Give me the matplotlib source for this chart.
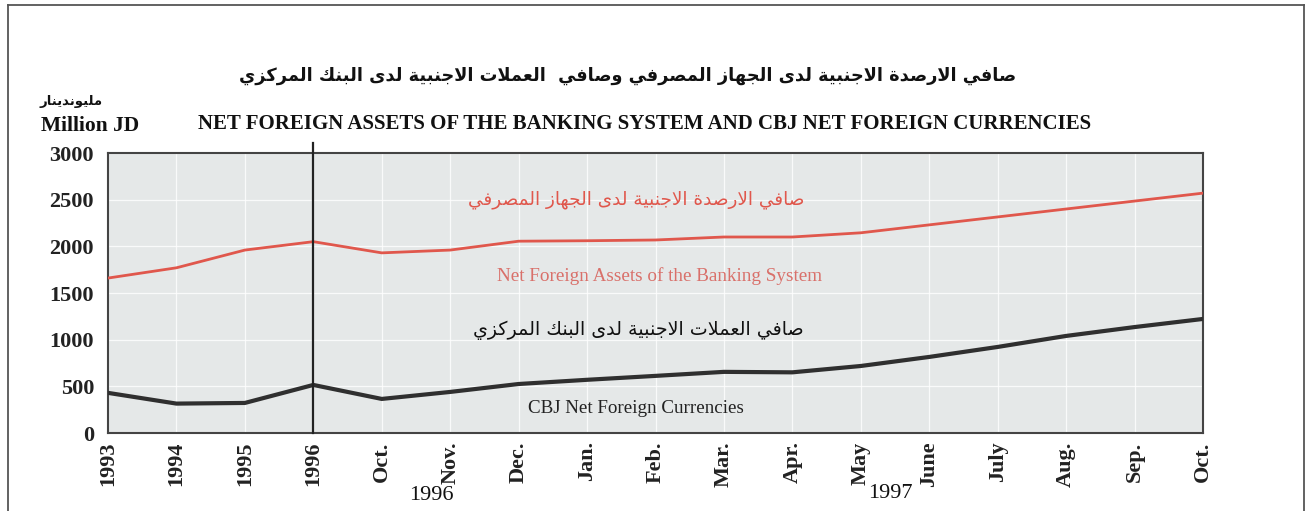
import matplotlib
matplotlib.use("Agg")
import matplotlib.pyplot as plt
from matplotlib.lines import Line2D

# ---------------- data ----------------
categories = ["1993", "1994", "1995", "1996", "Oct.", "Nov.", "Dec.", "Jan.", "Feb.",
              "Mar.", "Apr.", "May", "June", "July", "Aug.", "Sep.", "Oct."]
banking_nfa = [1660, 1770, 1960, 2050, 1930, 1960, 2055, 2060, 2068,
               2100, 2100, 2145, 2230, 2315, 2400, 2485, 2570]
cbj_nfc = [430, 315, 322, 515, 365, 440, 525, 570, 612,
           655, 650, 718, 815, 922, 1040, 1135, 1222]
yticks = [0, 500, 1000, 1500, 2000, 2500, 3000]

title_ar = "صافي الارصدة الاجنبية لدى الجهاز المصرفي وصافي  العملات الاجنبية لدى البنك المركزي"
title_en = "NET FOREIGN ASSETS OF THE BANKING SYSTEM AND CBJ NET FOREIGN CURRENCIES"
unit_ar = "مليوندينار"
unit_en = "Million JD"
red_ar = "صافي الارصدة الاجنبية لدى الجهاز المصرفي"
red_en = "Net Foreign Assets of the Banking System"
blk_ar = "صافي العملات الاجنبية لدى البنك المركزي"
blk_en = "CBJ Net Foreign Currencies"
year_labels = ["1996", "1997"]

# ------------- simple Arabic shaping (presentation forms + RTL) -------------
FORMS = {
    '\u0627': ('\uFE8D', '\uFE8E', None, None),
    '\u0628': ('\uFE8F', '\uFE90', '\uFE91', '\uFE92'),
    '\u0629': ('\uFE93', '\uFE94', None, None),
    '\u062A': ('\uFE95', '\uFE96', '\uFE97', '\uFE98'),
    '\u062C': ('\uFE9D', '\uFE9E', '\uFE9F', '\uFEA0'),
    '\u062F': ('\uFEA9', '\uFEAA', None, None),
    '\u0631': ('\uFEAD', '\uFEAE', None, None),
    '\u0632': ('\uFEAF', '\uFEB0', None, None),
    '\u0635': ('\uFEB9', '\uFEBA', '\uFEBB', '\uFEBC'),
    '\u0639': ('\uFEC9', '\uFECA', '\uFECB', '\uFECC'),
    '\u0641': ('\uFED1', '\uFED2', '\uFED3', '\uFED4'),
    '\u0643': ('\uFED9', '\uFEDA', '\uFEDB', '\uFEDC'),
    '\u0644': ('\uFEDD', '\uFEDE', '\uFEDF', '\uFEE0'),
    '\u0645': ('\uFEE1', '\uFEE2', '\uFEE3', '\uFEE4'),
    '\u0646': ('\uFEE5', '\uFEE6', '\uFEE7', '\uFEE8'),
    '\u0647': ('\uFEE9', '\uFEEA', '\uFEEB', '\uFEEC'),
    '\u0648': ('\uFEED', '\uFEEE', None, None),
    '\u0649': ('\uFEEF', '\uFEF0', None, None),
    '\u064A': ('\uFEF1', '\uFEF2', '\uFEF3', '\uFEF4'),
}


def shape(s):
    ch = list(s)
    n = len(ch)
    out = []
    i = 0
    while i < n:
        c = ch[i]
        if c not in FORMS:
            out.append(c)
            i += 1
            continue
        prev = ch[i - 1] if i > 0 else None
        jp = prev in FORMS and FORMS[prev][2] is not None
        if c == '\u0644' and i + 1 < n and ch[i + 1] == '\u0627':
            out.append('\uFEFC' if jp else '\uFEFB')
            i += 2
            continue
        nxt = ch[i + 1] if i + 1 < n else None
        f = FORMS[c]
        jn = f[2] is not None and nxt in FORMS
        if jp and jn:
            g = f[3]
        elif jp:
            g = f[1]
        elif jn:
            g = f[2]
        else:
            g = f[0]
        out.append(g)
        i += 1
    return ''.join(reversed(out))


SERIF = ["Liberation Serif", "DejaVu Serif"]
ARAB = ["DejaVu Sans"]
RED = "#e0574c"
DARK = "#2f2f2f"

W, H = 1312, 511
fig = plt.figure(figsize=(W / 100, H / 100), dpi=100)
fig.patch.set_facecolor("white")

# outer frame
fig.add_artist(Line2D([8 / W, 8 / W], [0, 1 - 5 / H], transform=fig.transFigure, color="#555555", lw=1.3))
fig.add_artist(Line2D([1304 / W, 1304 / W], [0, 1 - 5 / H], transform=fig.transFigure, color="#555555", lw=1.3))
fig.add_artist(Line2D([8 / W, 1304 / W], [1 - 5 / H, 1 - 5 / H], transform=fig.transFigure, color="#555555", lw=1.3))

ax = fig.add_axes([108 / W, 1 - 433 / H, (1203 - 108) / W, (433 - 153) / H])
ax.set_facecolor("#e5e8e8")
x = list(range(len(categories)))
ax.set_xlim(0, len(categories) - 1)
ax.set_ylim(0, 3000)

ax.set_xticks(x)
ax.set_xticklabels(categories, rotation=90, fontfamily=SERIF, fontweight="bold", fontsize=16, va="top", ha="center")
ax.set_yticks(yticks)
ax.set_yticklabels([str(v) for v in yticks], fontfamily=SERIF, fontweight="bold", fontsize=16)
ax.tick_params(axis="both", length=0, colors="#222222")
ax.tick_params(axis="y", pad=10)
ax.tick_params(axis="x", pad=6)
ax.grid(True, color="white", lw=0.9, alpha=0.8)
ax.set_axisbelow(True)
for sp in ax.spines.values():
    sp.set_color("#444444")
    sp.set_linewidth(1.5)

ax.plot(x, banking_nfa, color=RED, lw=2.0, zorder=3)
ax.plot(x, cbj_nfc, color=DARK, lw=3.0, zorder=3)
ax.axvline(3, ymin=0, ymax=1.035, color="#222222", lw=1.6, clip_on=False, zorder=4)

# in-plot labels
ax.text(0.482, 0.834, shape(red_ar), transform=ax.transAxes, ha="center", va="center",
        fontfamily=ARAB, fontsize=13.3, color=RED)
ax.text(0.504, 0.56, red_en, transform=ax.transAxes, ha="center", va="center",
        fontfamily=SERIF, fontsize=13.8, color="#d9706a")
ax.text(0.484, 0.367, shape(blk_ar), transform=ax.transAxes, ha="center", va="center",
        fontfamily=ARAB, fontsize=13.7, color="#111111")
ax.text(0.482, 0.088, blk_en, transform=ax.transAxes, ha="center", va="center",
        fontfamily=SERIF, fontsize=13.7, color="#222222")

# titles
fig.text(628 / W, 1 - 76 / H, shape(title_ar), ha="center", va="center",
         fontfamily=ARAB, fontweight="bold", fontsize=12.8, color="#111111")
fig.text(645 / W, 1 - 124 / H, title_en, ha="center", va="center",
         fontfamily=SERIF, fontweight="bold", fontsize=15, color="#111111")
fig.text(71 / W, 1 - 102 / H, shape(unit_ar), ha="center", va="center",
         fontfamily=ARAB, fontweight="bold", fontsize=9.5, color="#111111")
fig.text(90 / W, 1 - 126 / H, unit_en, ha="center", va="center",
         fontfamily=SERIF, fontweight="bold", fontsize=15.5, color="#111111")

# year group labels
fig.text(431 / W, 1 - 495 / H, year_labels[0], ha="center", va="center",
         fontfamily=SERIF, fontsize=16, color="#111111")
fig.text(890 / W, 1 - 493 / H, year_labels[1], ha="center", va="center",
         fontfamily=SERIF, fontsize=16, color="#111111")

fig.savefig("out.png", dpi=100, facecolor="white")
